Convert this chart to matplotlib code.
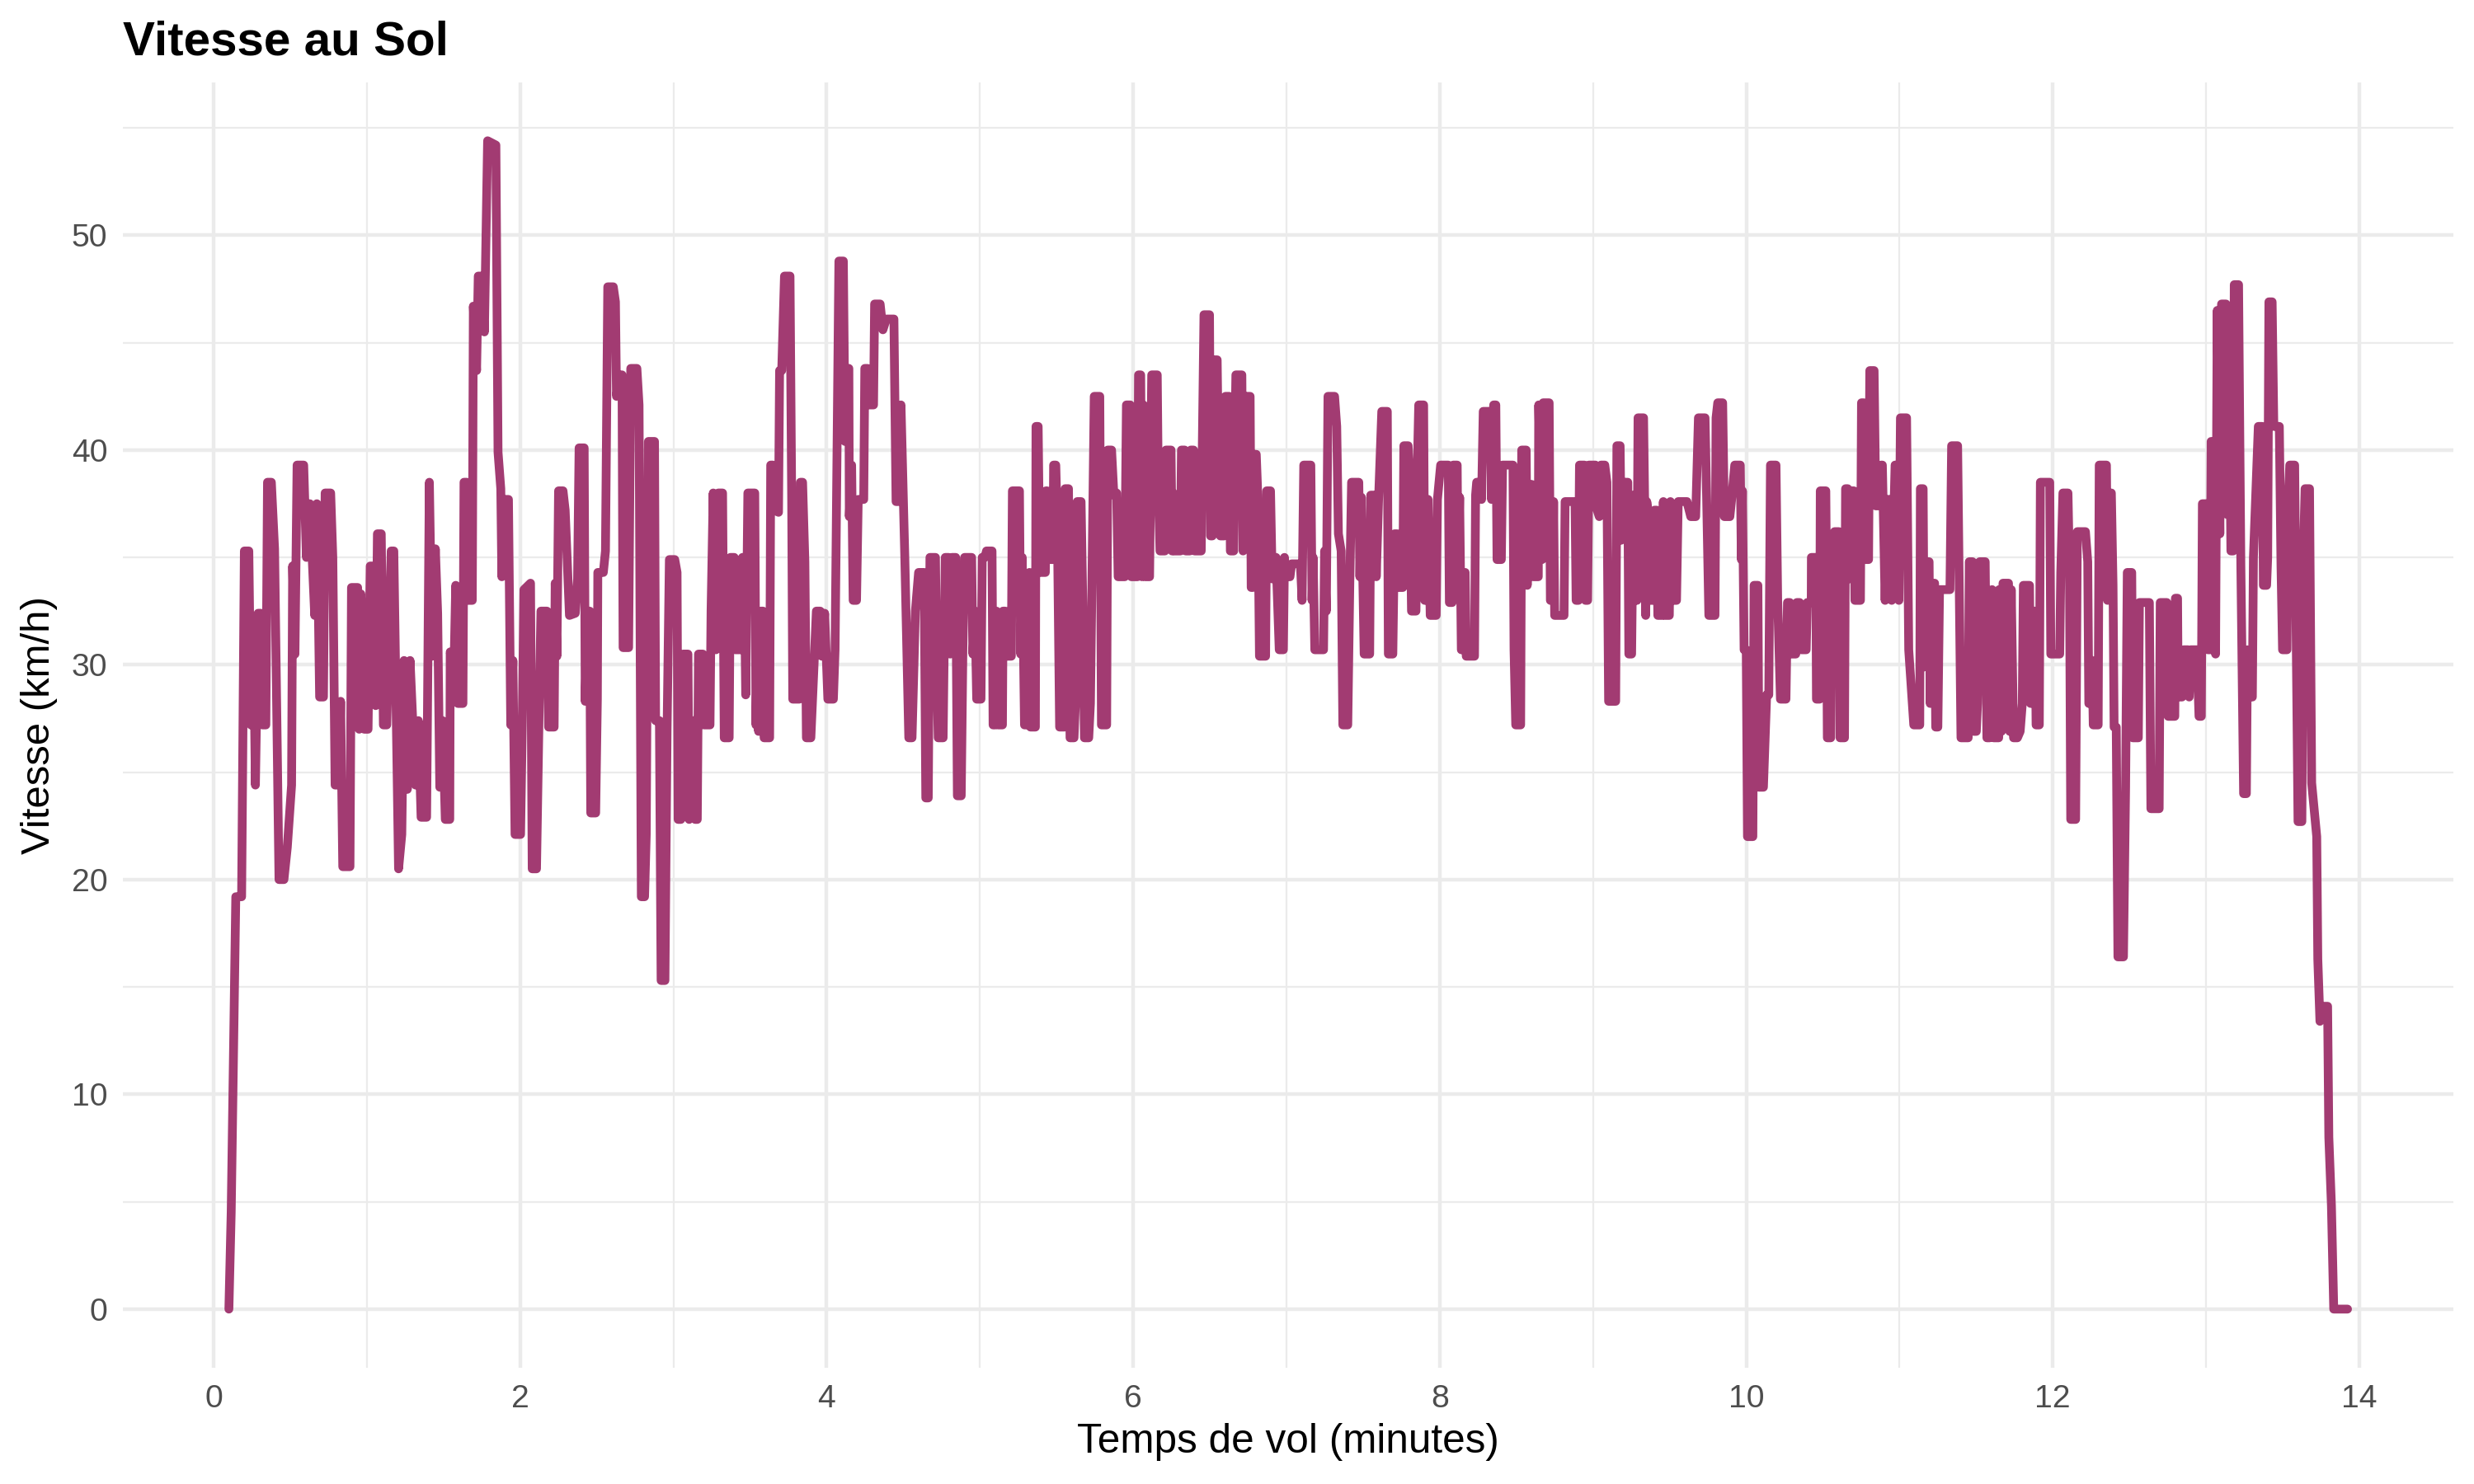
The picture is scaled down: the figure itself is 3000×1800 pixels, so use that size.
import matplotlib.pyplot as plt
from matplotlib.ticker import MultipleLocator

plt.rcParams['font.family'] = ['Liberation Sans', 'DejaVu Sans']

# Temps de vol (minutes) et vitesse sol (km/h)
temps_min = [
    0.100, 0.115, 0.145, 0.183, 0.201, 0.230, 0.244, 0.262, 0.273, 0.291, 0.308, 0.319, 0.341, 0.352, 0.377,
    0.398, 0.427, 0.459, 0.481, 0.509, 0.516, 0.531, 0.545, 0.588, 0.606, 0.628, 0.660, 0.674, 0.692, 0.717,
    0.728, 0.764, 0.778, 0.793, 0.818, 0.829, 0.843, 0.890, 0.900, 0.940, 0.950, 0.961, 0.983, 1.008, 1.022,
    1.047, 1.058, 1.069, 1.094, 1.108, 1.130, 1.159, 1.176,
    1.207, 1.228, 1.243, 1.264, 1.282, 1.318, 1.336, 1.354, 1.390, 1.408, 1.426, 1.447, 1.462, 1.476, 1.494,
    1.512, 1.541, 1.544, 1.569, 1.580, 1.594, 1.627, 1.634, 1.652, 1.663, 1.688, 1.695, 1.716, 1.727, 1.749,
    1.767, 1.788, 1.842, 1.856, 1.874, 1.881, 1.896, 1.924, 1.939, 1.953, 1.967, 2.003, 2.014, 2.025, 2.068,
    2.079, 2.107, 2.125, 2.136, 2.175, 2.186, 2.222, 2.229, 2.240, 2.251, 2.280, 2.294, 2.322,
    2.360, 2.375, 2.385, 2.418, 2.425, 2.439, 2.454, 2.461, 2.493, 2.504, 2.507, 2.543, 2.557, 2.572, 2.608,
    2.622, 2.629, 2.647, 2.665, 2.672, 2.708, 2.722, 2.762, 2.776, 2.791, 2.812, 2.823, 2.837, 2.877, 2.884,
    2.909, 2.920, 2.945, 2.959, 2.974, 3.009, 3.024, 3.031, 3.049, 3.063, 3.095, 3.103, 3.131, 3.142, 3.156,
    3.164, 3.192, 3.199, 3.239, 3.246, 3.260, 3.278, 3.293, 3.321, 3.332, 3.364, 3.372, 3.397, 3.404, 3.443,
    3.451, 3.461, 3.472, 3.486,
    3.506, 3.531, 3.539, 3.546, 3.556, 3.571, 3.585, 3.592, 3.628, 3.635, 3.650, 3.660, 3.686, 3.693, 3.707,
    3.725, 3.761, 3.772, 3.779, 3.822, 3.829, 3.843, 3.858, 3.868, 3.897, 3.919, 3.933, 3.958, 3.969, 3.987,
    4.008, 4.044, 4.055, 4.069, 4.080, 4.109, 4.120, 4.127, 4.145, 4.148, 4.163, 4.173, 4.195, 4.206, 4.242,
    4.249, 4.267, 4.281, 4.306, 4.313, 4.349, 4.367, 4.389, 4.439, 4.453, 4.467, 4.485, 4.510, 4.536, 4.557,
    4.579, 4.600, 4.636, 4.647,
    4.663, 4.674, 4.710, 4.717, 4.728, 4.760, 4.774, 4.796, 4.806, 4.817, 4.842, 4.853, 4.878, 4.889, 4.900,
    4.946, 4.954, 4.968, 4.979, 5.007, 5.015, 5.032, 5.043, 5.079, 5.086, 5.101, 5.108, 5.119, 5.147, 5.151,
    5.165, 5.176, 5.205, 5.212, 5.258, 5.266, 5.276, 5.291, 5.316, 5.323, 5.330, 5.362, 5.366, 5.380, 5.391,
    5.427, 5.431, 5.438, 5.445, 5.477, 5.481, 5.495, 5.506, 5.520, 5.553, 5.556, 5.578, 5.588, 5.614, 5.624,
    5.635, 5.660, 5.671, 5.682, 5.710, 5.721, 5.746, 5.782, 5.793,
    5.827, 5.834, 5.859, 5.874, 5.892, 5.902, 5.945, 5.956, 5.981, 5.988, 6.028, 6.035, 6.049, 6.057, 6.067,
    6.078, 6.107, 6.121, 6.157, 6.164, 6.175, 6.207, 6.214, 6.247, 6.254, 6.261, 6.268, 6.308, 6.315, 6.336,
    6.343, 6.369, 6.376, 6.394, 6.401, 6.444, 6.451, 6.462, 6.498, 6.505, 6.516, 6.519, 6.548, 6.559, 6.569,
    6.594, 6.602, 6.627, 6.634, 6.656, 6.663, 6.670, 6.709, 6.717, 6.724, 6.734, 6.763, 6.770, 6.781, 6.788,
    6.803, 6.813, 6.824, 6.864, 6.871, 6.896, 6.907, 6.925, 6.932, 6.953,
    6.980, 6.987, 6.995, 7.023, 7.034, 7.091, 7.102, 7.113, 7.159, 7.167, 7.174, 7.185, 7.242, 7.249, 7.260,
    7.271, 7.314, 7.328, 7.339, 7.357, 7.368, 7.400, 7.414, 7.425, 7.472, 7.479, 7.489, 7.507, 7.543, 7.550,
    7.579, 7.586, 7.601, 7.622, 7.658, 7.665, 7.694, 7.705, 7.723, 7.730, 7.759, 7.766, 7.794, 7.805, 7.816,
    7.845, 7.852, 7.863, 7.895, 7.902, 7.916, 7.924, 7.938, 7.977, 7.985, 8.006, 8.056, 8.063, 8.081, 8.088,
    8.114,
    8.119, 8.130, 8.141, 8.158, 8.166, 8.173, 8.227, 8.234, 8.241, 8.266, 8.273, 8.284, 8.331, 8.338, 8.352,
    8.366, 8.374, 8.402, 8.410, 8.478, 8.485, 8.496, 8.528, 8.535, 8.564, 8.571, 8.585, 8.600, 8.610, 8.643,
    8.646, 8.668, 8.675, 8.714, 8.722, 8.736, 8.743, 8.750, 8.811, 8.818, 8.883, 8.890, 8.905, 8.912, 8.944,
    8.951, 8.965, 8.973, 9.016, 9.023, 9.041, 9.052, 9.077, 9.091, 9.102, 9.148, 9.156, 9.177, 9.184, 9.199,
    9.227, 9.234, 9.252, 9.263,
    9.272, 9.287, 9.294, 9.330, 9.337, 9.344, 9.351, 9.358, 9.365, 9.394, 9.401, 9.416, 9.423, 9.452, 9.459,
    9.469, 9.498, 9.505, 9.516, 9.545, 9.556, 9.613, 9.638, 9.670, 9.688, 9.731, 9.742, 9.756, 9.796, 9.803,
    9.814, 9.846, 9.857, 9.893, 9.903, 9.925, 9.961, 9.968, 9.975, 9.986, 10.000, 10.008, 10.043, 10.051,
    10.076, 10.083, 10.112, 10.133, 10.147, 10.158, 10.194, 10.205, 10.223, 10.259, 10.269, 10.284, 10.294,
    10.323, 10.330, 10.348, 10.359, 10.391, 10.398, 10.424,
    10.425, 10.454, 10.458, 10.479, 10.483, 10.519, 10.522, 10.529, 10.551, 10.558, 10.565, 10.576, 10.605,
    10.612, 10.641, 10.648, 10.662, 10.673, 10.684, 10.702, 10.709, 10.745, 10.752, 10.766, 10.773, 10.798,
    10.806, 10.834, 10.845, 10.874, 10.881, 10.888, 10.906, 10.920, 10.942, 10.949, 10.971, 10.985, 10.996,
    11.006, 11.046, 11.060, 11.093, 11.132, 11.136, 11.154, 11.161, 11.168, 11.193, 11.200, 11.207, 11.229,
    11.236, 11.250, 11.261, 11.329, 11.340, 11.379, 11.390, 11.401, 11.448, 11.455, 11.476, 11.483, 11.501,
    11.509, 11.523, 11.559, 11.570, 11.588,
    11.604, 11.614, 11.647, 11.650, 11.658, 11.665, 11.675, 11.711, 11.719, 11.729, 11.744, 11.769, 11.787,
    11.801, 11.808, 11.848, 11.855, 11.866, 11.884, 11.891, 11.912, 11.919, 11.980, 11.987, 12.045, 12.052,
    12.066, 12.099, 12.109, 12.117, 12.149, 12.160, 12.213, 12.228, 12.235, 12.246, 12.257, 12.264, 12.296,
    12.303, 12.350, 12.357, 12.368, 12.382, 12.393, 12.400, 12.414, 12.425, 12.461, 12.475, 12.486, 12.515,
    12.522, 12.558, 12.565, 12.630, 12.640, 12.694, 12.701, 12.744,
    12.753, 12.796, 12.800, 12.814, 12.818, 12.843, 12.854, 12.882, 12.890, 12.900, 12.940, 12.954, 12.969,
    12.976, 13.001, 13.012, 13.026, 13.033, 13.055, 13.062, 13.073, 13.090, 13.101, 13.130, 13.137, 13.148,
    13.162, 13.177, 13.184, 13.212, 13.227, 13.245, 13.263, 13.270, 13.288, 13.302, 13.309, 13.341, 13.367,
    13.374, 13.395, 13.402, 13.410, 13.431, 13.442, 13.478, 13.489, 13.499, 13.528, 13.535, 13.546, 13.578,
    13.589, 13.600, 13.625, 13.636, 13.646, 13.675, 13.689, 13.722, 13.729, 13.743, 13.765, 13.793, 13.801,
    13.818, 13.833, 13.923,
]

vitesse_kmh = [
    0.0, 4.5, 19.2, 19.2, 35.3, 35.3, 27.2, 30.6, 24.4, 32.4, 32.4, 27.2, 27.2, 38.5, 38.5,
    35.4, 20.0, 20.0, 21.5, 24.4, 34.6, 30.5, 39.3, 39.3, 35.0, 37.5, 32.3, 37.5, 28.5, 28.5,
    38.0, 38.0, 35.0, 24.4, 24.4, 28.3, 20.6, 20.6, 33.6, 33.6, 27.0, 33.3, 27.0, 27.0, 34.6,
    34.6, 28.1, 36.1, 36.1, 27.2, 27.2, 35.3, 35.3,
    20.5, 22.1, 30.2, 24.2, 30.2, 24.4, 27.4, 22.9, 22.9, 38.5, 30.4, 35.4, 32.4, 24.3, 27.4,
    22.8, 22.8, 30.6, 29.9, 33.7, 28.2, 28.2, 38.5, 38.5, 33.0, 33.0, 46.7, 43.7, 48.1, 48.1,
    45.5, 54.4, 54.2, 39.9, 38.2, 34.1, 37.7, 37.7, 27.2, 30.2, 22.1, 22.1, 27.1, 33.5, 33.8,
    20.5, 20.5, 28.2, 32.5, 32.5, 27.1, 27.1, 33.8, 30.4, 38.1, 38.1, 37.2, 32.3,
    32.4, 34.0, 40.1, 40.1, 28.3, 32.5, 32.5, 23.1, 23.1, 28.4, 34.3, 34.3, 35.3, 47.6, 47.6,
    46.9, 42.5, 43.5, 43.5, 30.8, 30.8, 43.8, 43.8, 42.1, 19.2, 19.2, 22.1, 40.4, 40.4, 27.4,
    27.4, 15.3, 15.3, 27.0, 34.9, 34.9, 34.3, 22.8, 22.8, 30.5, 30.5, 22.8, 27.4, 22.8, 22.8,
    30.5, 30.5, 27.2, 27.2, 32.5, 38.0, 30.7, 38.0, 38.0, 26.6, 26.6, 35.0, 35.0, 30.7, 30.7,
    35.0, 35.0, 28.6, 38.0,
    38.0, 38.0, 27.2, 30.3, 26.9, 32.5, 32.5, 26.6, 26.6, 39.3, 39.3, 37.2, 37.1, 43.7, 43.7,
    48.1, 48.1, 37.7, 28.4, 28.4, 38.5, 38.5, 34.8, 26.6, 26.6, 30.2, 32.5, 32.5, 30.4, 32.4,
    28.4, 28.4, 30.7, 40.7, 48.8, 48.8, 40.4, 43.8, 43.8, 36.9, 39.3, 33.0, 33.0, 37.7, 37.7,
    43.8, 43.8, 42.1, 42.1, 46.8, 46.8, 45.6, 46.1, 46.1, 37.6, 37.6, 42.1, 35.0, 26.6, 26.6,
    32.5, 34.3, 34.3, 23.8,
    23.8, 35.0, 35.0, 30.5, 26.6, 26.6, 35.0, 35.0, 30.5, 35.0, 35.0, 23.9, 23.9, 30.8, 35.0,
    35.0, 30.5, 32.5, 28.4, 28.4, 35.0, 35.0, 35.3, 35.3, 27.2, 27.2, 32.5, 27.2, 27.2, 32.5,
    32.5, 30.4, 30.4, 38.1, 38.1, 30.5, 35.0, 27.2, 27.2, 34.3, 27.1, 27.1, 41.1, 41.1, 34.3,
    34.3, 38.1, 38.1, 34.9, 34.9, 39.3, 39.3, 36.2, 27.1, 27.1, 38.2, 38.2, 26.6, 26.6, 28.4,
    37.6, 37.6, 32.9, 26.6, 26.6, 28.2, 42.5, 42.5, 27.2,
    27.2, 40.0, 40.0, 37.9, 38.0, 34.1, 34.1, 42.1, 42.1, 34.1, 34.1, 43.5, 43.5, 34.1, 42.1,
    34.1, 34.1, 43.5, 43.5, 38.2, 35.3, 35.3, 40.0, 40.0, 35.3, 38.0, 35.3, 35.3, 40.0, 40.0,
    35.3, 35.3, 40.0, 40.0, 35.3, 35.3, 40.1, 46.3, 46.3, 36.0, 36.0, 44.2, 44.2, 37.8, 36.0,
    36.0, 42.5, 42.5, 35.3, 35.3, 40.1, 43.5, 43.5, 35.3, 37.8, 42.5, 42.5, 33.6, 33.6, 39.8,
    39.8, 37.9, 30.4, 30.4, 38.1, 38.1, 34.0, 34.0, 35.0, 30.7,
    30.7, 35.0, 34.1, 34.1, 34.7, 34.7, 33.0, 39.3, 39.3, 33.0, 35.0, 30.7, 30.7, 35.3, 32.5,
    42.5, 42.5, 41.1, 36.1, 35.3, 27.2, 27.2, 34.1, 38.5, 38.5, 34.1, 37.8, 30.5, 30.5, 37.9,
    37.9, 34.1, 37.7, 41.8, 41.8, 30.5, 30.5, 36.1, 36.1, 33.6, 33.6, 40.2, 40.2, 38.4, 32.5,
    32.5, 38.5, 42.1, 42.1, 33.0, 33.0, 37.7, 32.3, 32.3, 37.7, 39.3, 39.3, 32.9, 32.9, 39.3,
    39.3,
    34.1, 37.8, 30.7, 30.7, 34.3, 30.4, 30.4, 37.9, 38.5, 38.5, 37.7, 41.8, 41.8, 37.7, 42.1,
    42.1, 34.9, 34.9, 39.3, 39.3, 30.7, 27.2, 27.2, 40.0, 40.0, 33.7, 38.4, 38.4, 34.1, 34.1,
    42.1, 34.9, 42.2, 42.2, 33.0, 33.0, 37.6, 32.3, 32.3, 37.6, 37.6, 33.0, 33.0, 39.3, 39.3,
    33.0, 33.0, 39.3, 39.3, 37.3, 36.9, 39.3, 39.3, 38.5, 28.3, 28.3, 40.2, 40.2, 35.8, 38.5,
    38.5, 30.5, 30.5, 37.9,
    33.0, 33.0, 41.5, 41.5, 37.6, 32.3, 37.6, 37.2, 33.0, 33.0, 37.2, 37.2, 32.3, 32.3, 37.6,
    32.3, 32.3, 37.6, 33.0, 33.0, 37.6, 37.6, 36.9, 36.9, 41.5, 41.5, 37.6, 32.3, 32.3, 41.5,
    42.2, 42.2, 36.9, 36.9, 37.6, 39.3, 39.3, 34.9, 38.1, 30.7, 30.7, 22.0, 22.0, 33.7,
    33.7, 24.3, 24.3, 28.6, 28.6, 39.3, 39.3, 33.0, 28.4, 28.4, 32.9, 32.9, 30.5,
    30.5, 32.9, 32.9, 30.7, 30.7, 32.9, 32.9,
    35.0, 35.0, 28.4, 28.4, 38.1, 38.1, 35.4, 26.6, 26.6, 35.4, 32.4, 36.2, 36.2,
    26.6, 26.6, 38.2, 38.2, 34.0, 38.1, 38.1, 33.0, 33.0, 42.2, 42.2, 34.9, 34.9,
    43.7, 43.7, 37.4, 37.4, 39.3, 39.3, 33.0, 37.7, 37.7, 33.0, 39.3, 39.3, 33.0,
    41.5, 41.5, 30.7, 27.2, 27.2, 38.2, 38.2, 29.9, 34.8, 34.8, 28.2, 33.8, 33.8,
    27.1, 27.1, 33.5, 33.5, 40.2, 40.2, 33.4, 26.6, 26.6, 34.8, 34.8, 26.9, 26.9,
    28.2, 34.8, 34.8, 26.6, 26.6,
    33.5, 26.6, 26.6, 33.5, 33.5, 26.9, 33.8, 33.8, 26.9, 33.5, 26.6, 26.6, 26.9,
    28.2, 33.7, 33.7, 28.2, 32.5, 32.5, 27.2, 27.2, 38.5, 38.5, 30.5, 30.5, 34.3,
    38.0, 38.0, 34.3, 22.8, 22.8, 36.2, 36.2, 34.8, 28.2, 28.2, 30.2, 27.2, 27.2,
    39.3, 39.3, 33.0, 38.0, 38.0, 33.7, 27.1, 27.1, 16.4, 16.4, 24.3, 34.3, 34.3,
    26.6, 26.6, 32.9, 32.9, 23.3, 23.3, 32.9, 32.9,
    27.6, 27.6, 33.1, 33.1, 28.5, 28.5, 30.7, 30.7, 28.5, 30.7, 30.7, 27.6, 27.6,
    37.5, 37.5, 30.7, 30.7, 40.4, 40.4, 30.5, 46.5, 36.1, 46.8, 46.8, 37.0, 46.1,
    35.3, 35.3, 47.7, 47.7, 34.6, 24.0, 24.0, 30.7, 28.5, 28.5, 35.0, 41.1, 41.1,
    33.7, 33.7, 35.0, 46.9, 46.9, 41.1, 41.1, 34.6, 30.7, 30.7, 37.5, 39.3, 39.3,
    30.7, 22.7, 22.7, 35.3, 38.2, 38.2, 24.5, 22.0, 16.3, 13.4, 14.1, 14.1, 8.0,
    4.8, 0.0, 0.0,
]

couleur = '#A23B72'
gris_grille = '#EBEBEB'

fig = plt.figure(figsize=(10, 6), dpi=300)
ax = fig.add_axes([0.0497, 0.0785, 0.942, 0.866])

ax.plot(temps_min, vitesse_kmh, color=couleur, lw=2.56,
        solid_joinstyle='round', solid_capstyle='round')

ax.set_xticks(range(0, 15, 2))
ax.set_yticks(range(0, 51, 10))
ax.xaxis.set_minor_locator(MultipleLocator(1))
ax.yaxis.set_minor_locator(MultipleLocator(5))
ax.grid(which='major', color=gris_grille, lw=1.07)
ax.grid(which='minor', color=gris_grille, lw=0.53)
ax.set_axisbelow(True)
for s in ax.spines.values():
    s.set_visible(False)
ax.tick_params(which='both', length=0)
ax.tick_params(axis='x', pad=4.8, labelsize=9.4, labelcolor='#4D4D4D')
ax.tick_params(axis='y', pad=4.5, labelsize=9.4, labelcolor='#4D4D4D')

ax.set_xlabel('Temps de vol (minutes)', fontsize=11.9, ha='center', va='center')
ax.xaxis.set_label_coords(0.5, -0.0577)
ax.set_ylabel('Vitesse (km/h)', fontsize=11.8, ha='center', va='center')
ax.yaxis.set_label_coords(-0.0359, 0.5)

fig.text(0.0497, 0.963, 'Vitesse au Sol', fontsize=14, fontweight='bold',
         ha='left', va='baseline')

fig.savefig('out.png', dpi=300)
